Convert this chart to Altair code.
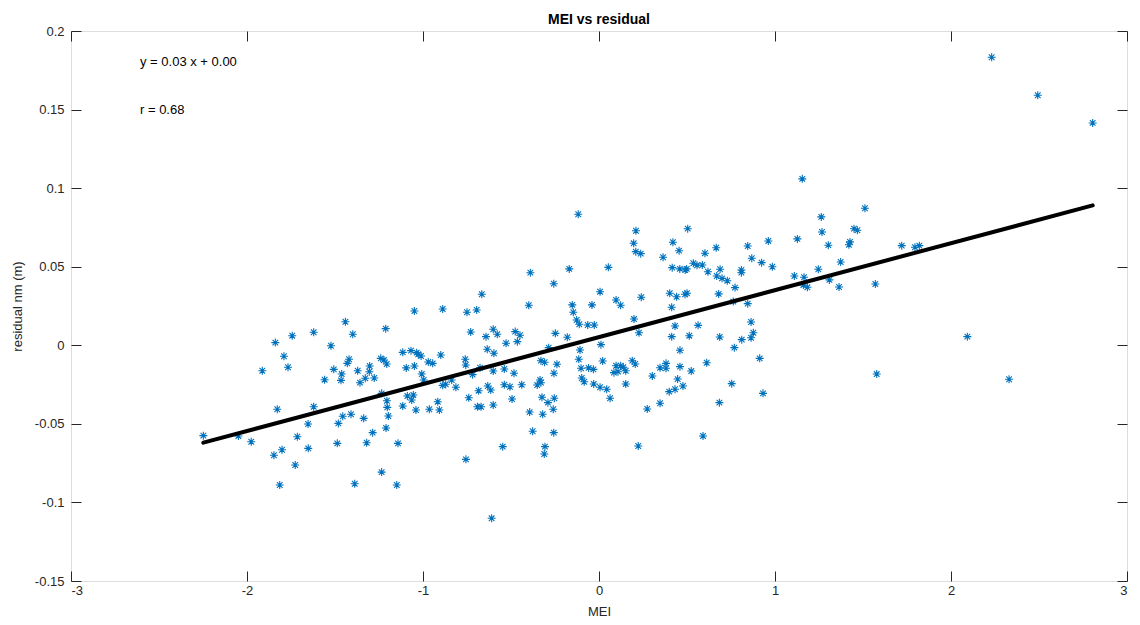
import altair as alt
import pandas as pd

MEI = [
    -1.441, -1.212, -1.743, -1.621, -1.839, -1.399, -1.523, -1.790, -1.767, -1.913,
    -1.420, -1.430, -1.507, -1.462, -1.466, -1.559, -1.371, -1.303, -1.305, -1.328,
    -1.358, -1.277, -1.240, -1.222, -1.206, -1.235, -1.205, -1.203, -1.197, -1.210,
    -1.828, -1.621, -1.456, -1.409, -1.337, -1.481, -1.653, -2.248, -2.049, -1.976,
    -1.714, -1.286, -1.801, -1.847, -1.652, -1.487, -1.320, -1.142, -1.726, -1.235,
    -1.814, -1.388, -1.149,
    -1.049, -0.888, -0.750, -0.695, -0.399, -0.152, -0.040, -0.146, -0.127, -0.112,
    -0.064, -0.027, -0.729, -0.642, -0.601, -0.578, -0.476, -0.449, -0.464, -0.528,
    -0.248, -0.180, 0.011, -0.108, -0.286, -1.115, -1.068, -1.036, -1.027, -1.011,
    -0.899, -0.970, -0.945, -1.095, -1.049, -1.007, -0.996, -0.760, -0.757, -0.635,
    -0.597, -0.676, -0.718, -0.601, -0.538, -0.483, -0.330, -0.309, -0.239, -0.256,
    -0.115, -0.102, -0.059, -0.032, 0.021, -0.098, -0.084, -0.030, 0.006, 0.044,
    0.063, -0.888, -0.871, -0.813, -0.837, -0.684, -0.632, -0.615, -0.538, -0.506,
    -0.439, -0.335, -0.330, -0.351, -1.089, -1.055, -1.064, -1.115, -1.040, -0.964,
    -0.907, -0.916, -0.740, -0.691, -0.670, -0.601, -0.494, -0.324, -0.290, -0.254,
    -0.260, -0.394, -0.320, -0.377, -0.257, -0.547, -0.307, -0.311, -0.756, -0.610,
    -0.118, -0.390, -0.169, -0.257, 0.053, 0.006, -0.666,
    0.210, 0.504, 0.197, 0.209, 0.237, 0.420, 0.455, 0.364, 0.602, 0.666,
    0.845, 0.962, 1.127, 0.868, 0.924, 0.985, 0.416, 0.459, 0.490, 0.498,
    0.536, 0.557, 0.587, 0.619, 0.688, 0.669, 0.699, 0.729, 0.809, 0.809,
    0.773, 1.110, 0.097, 0.123, 0.240, 0.402, 0.441, 0.489, 0.500, 0.680,
    0.763, 0.845, 0.413, 0.199, 0.864, 0.432, 0.563, 0.227, 0.413, 0.513,
    0.686, 0.811, 0.864, 0.877, 0.769, 0.460, 0.913, 0.097, 0.123, 0.138,
    0.085, 0.108, 0.152, 0.189, 0.206, 0.347, 0.381, 0.381, 0.460, 0.524,
    0.612, 0.303, 0.447, 0.152, 0.399, 0.432, 0.477, 0.754, 0.932, 0.274,
    0.347, 0.684, 0.591, 0.223,
    1.155, 1.511, 1.263, 1.267, 1.303, 1.449, 1.468, 1.426, 1.420, 1.720,
    1.795, 1.820, 1.373, 1.246, 1.165, 1.309, 1.161, 1.184, 1.364, 1.570,
    2.093, 1.578,
    2.231, 2.493, 2.805, 2.330,
]

RESIDUAL = [
    0.0150, 0.0106, 0.0061, 0.0083, 0.0017, 0.0070, -0.0003, -0.0070, -0.0140, -0.0162,
    -0.0089, -0.0115, -0.0153, -0.0183, -0.0223, -0.0219, -0.0162, -0.0132, -0.0168, -0.0210,
    -0.0238, -0.0208, -0.0083, -0.0094, -0.0119, -0.0306, -0.0353, -0.0395, -0.0450, -0.0526,
    -0.0407, -0.0391, -0.0452, -0.0439, -0.0465, -0.0497, -0.0501, -0.0575, -0.0577, -0.0614,
    -0.0582, -0.0556, -0.0665, -0.0700, -0.0656, -0.0624, -0.0620, -0.0624, -0.0762, -0.0807,
    -0.0889, -0.0881, -0.0889,
    0.0218, 0.0231, 0.0210, 0.0225, 0.0255, 0.0257, 0.0257, 0.0210, 0.0161, 0.0134,
    0.0129, 0.0129, 0.0085, 0.0055, 0.0102, 0.0070, 0.0087, 0.0064, 0.0023, 0.0013,
    0.0076, 0.0051, 0.0004, -0.0030, -0.0015, -0.0045, -0.0034, -0.0047, -0.0057, -0.0068,
    -0.0062, -0.0106, -0.0115, -0.0144, -0.0132, -0.0183, -0.0221, -0.0089, -0.0125, -0.0025,
    -0.0051, -0.0143, -0.0187, -0.0164, -0.0151, -0.0178, -0.0098, -0.0108, -0.0121, -0.0178,
    -0.0089, -0.0146, -0.0144, -0.0153, -0.0100, -0.0208, -0.0232, -0.0246, -0.0267, -0.0280,
    -0.0337, -0.0255, -0.0248, -0.0267, -0.0221, -0.0289, -0.0259, -0.0285, -0.0251, -0.0264,
    -0.0251, -0.0221, -0.0238, -0.0253, -0.0323, -0.0316, -0.0348, -0.0386, -0.0412, -0.0407,
    -0.0412, -0.0359, -0.0334, -0.0391, -0.0391, -0.0380, -0.0342, -0.0331, -0.0365, -0.0337,
    -0.0407, -0.0425, -0.0439, -0.0547, -0.0556, -0.0645, -0.0645, -0.0692, -0.0726, -0.1101,
    0.0834, 0.0462, 0.0486, 0.0392, 0.0496, 0.0341, 0.0325,
    0.0729, 0.0742, 0.0649, 0.0596, 0.0583, 0.0656, 0.0602, 0.0560, 0.0586, 0.0621,
    0.0632, 0.0664, 0.0677, 0.0554, 0.0526, 0.0500, 0.0494, 0.0486, 0.0479, 0.0486,
    0.0522, 0.0509, 0.0511, 0.0468, 0.0484, 0.0441, 0.0426, 0.0411, 0.0479, 0.0462,
    0.0367, 0.0441, 0.0288, 0.0255, 0.0306, 0.0331, 0.0309, 0.0325, 0.0331, 0.0327,
    0.0278, 0.0265, 0.0242, 0.0167, 0.0148, 0.0123, 0.0127, 0.0080, 0.0055, 0.0061,
    0.0053, 0.0036, 0.0048, 0.0080, -0.0015, -0.0032, -0.0083, -0.0130, -0.0130, -0.0140,
    -0.0174, -0.0168, -0.0162, -0.0098, -0.0119, -0.0143, -0.0115, -0.0146, -0.0136, -0.0164,
    -0.0111, -0.0195, -0.0215, -0.0246, -0.0295, -0.0280, -0.0259, -0.0244, -0.0306, -0.0405,
    -0.0369, -0.0365, -0.0577, -0.0641,
    0.1059, 0.0872, 0.0817, 0.0721, 0.0637, 0.0742, 0.0732, 0.0658, 0.0640, 0.0634,
    0.0624, 0.0634, 0.0530, 0.0484, 0.0433, 0.0416, 0.0384, 0.0369, 0.0371, 0.0390,
    0.0055, -0.0183,
    0.1833, 0.1591, 0.1415, -0.0216,
]

X_TICKS = [-3, -2, -1, 0, 1, 2, 3]
Y_TICKS = [-0.15, -0.1, -0.05, 0, 0.05, 0.1, 0.15, 0.2]

ANNOT_TEXT = ["y = 0.03 x + 0.00", "r = 0.68"]
ANNOT_X = [-2.608, -2.608]
ANNOT_Y = [0.18, 0.15]

FONT = "Liberation Sans"
AXIS_COLOR = "#262626"
STAR = "M-1,0L1,0M0,-1L0,1M-0.7,-0.7L0.7,0.7M-0.7,0.7L0.7,-0.7"

df = pd.DataFrame({"MEI": MEI, "resid": RESIDUAL})
annot = pd.DataFrame({"label": ANNOT_TEXT, "MEI": ANNOT_X, "resid": ANNOT_Y})

xscale = alt.Scale(domain=[X_TICKS[0], X_TICKS[-1]], nice=False, zero=False)
yscale = alt.Scale(domain=[Y_TICKS[0], Y_TICKS[-1]], nice=False, zero=False)

common_axis = dict(
    grid=False, domain=False, tickSize=10, offset=-10, tickColor=AXIS_COLOR,
    tickWidth=1, labelFont=FONT, labelFontSize=13, labelColor=AXIS_COLOR,
    titleFont=FONT, titleFontSize=13, titleColor=AXIS_COLOR, titleFontWeight="normal",
    labelExpr="datum.value + ''",
)

x_bottom = alt.Axis(orient="bottom", values=X_TICKS, title="MEI", labelPadding=3,
                    titlePadding=8, **common_axis)
y_left = alt.Axis(orient="left", values=Y_TICKS, title="residual nm (m)", labelPadding=7,
                  titlePadding=10, **common_axis)
x_top = alt.Axis(orient="top", values=X_TICKS, title=None, labels=False, **common_axis)
y_right = alt.Axis(orient="right", values=Y_TICKS, title=None, labels=False, **common_axis)

points = alt.Chart(df).mark_point(
    shape=STAR, filled=False, size=64, color="#0072BD", strokeWidth=1.1, opacity=1
).encode(
    x=alt.X("MEI:Q", scale=xscale, axis=x_bottom),
    y=alt.Y("resid:Q", scale=yscale, axis=y_left),
)

fit = alt.Chart(df).transform_regression("MEI", "resid").mark_line(
    color="black", strokeWidth=4, strokeCap="round"
).encode(
    x=alt.X("MEI:Q", scale=xscale, axis=x_top),
    y=alt.Y("resid:Q", scale=yscale, axis=y_right),
)

text = alt.Chart(annot).mark_text(
    align="left", baseline="middle", font=FONT, fontSize=13, color="black"
).encode(
    x=alt.X("MEI:Q", scale=xscale, axis=None),
    y=alt.Y("resid:Q", scale=yscale, axis=None),
    text="label:N",
)

chart = alt.layer(points, fit, text).resolve_axis(
    x="independent", y="independent"
).properties(
    width=1056, height=550,
    title=alt.TitleParams("MEI vs residual", font=FONT, fontSize=14, fontWeight="bold",
                          color="black", anchor="middle", offset=6, dy=8),
    autosize=alt.AutoSizeParams(type="none"),
    padding={"left": 63, "top": 23, "right": 5, "bottom": 36},
).configure_view(stroke=AXIS_COLOR, strokeWidth=1).configure(background="white")

chart.save("out.html", embed_options={"renderer": "svg", "actions": False})
